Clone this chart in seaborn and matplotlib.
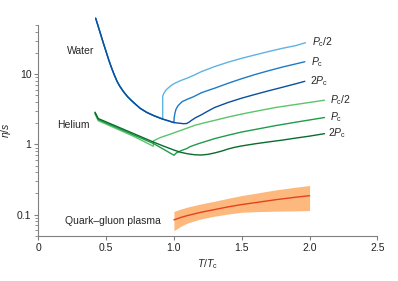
import numpy as np
import pandas as pd
import matplotlib
matplotlib.use("Agg")
import matplotlib.pyplot as plt
import matplotlib.ticker as mticker
import seaborn as sns

# Donnees (T/Tc, eta/s)

# Eau : branche liquide commune puis les trois pressions
water_liq_T = [0.423, 0.44, 0.46, 0.48, 0.50, 0.52, 0.54, 0.56, 0.58, 0.60, 0.63,
               0.66, 0.70, 0.75, 0.80, 0.85, 0.917]
water_liq_eta = [62.5, 49.0, 36.7, 27.5, 20.9, 15.8, 12.3, 9.77, 7.94, 6.76, 5.56,
                 4.73, 3.98, 3.27, 2.85, 2.57, 2.29]

water_half_T = [0.917, 0.917, 0.925, 0.94, 0.96, 0.98, 1.0, 1.05, 1.1, 1.15, 1.2,
                1.3, 1.4, 1.5, 1.6, 1.7, 1.8, 1.9, 1.97]
water_half_eta = [2.29, 4.85, 5.3, 5.9, 6.4, 6.9, 7.3, 8.1, 8.8, 9.7, 10.8,
                  12.8, 14.8, 16.8, 18.8, 21.0, 23.3, 25.5, 28.0]

water_pc_T = [0.917, 0.96, 1.0, 1.002, 1.007, 1.015, 1.03, 1.06, 1.1, 1.142, 1.2,
              1.25, 1.3, 1.4, 1.5, 1.6, 1.7, 1.8, 1.9, 1.965]
water_pc_eta = [2.29, 2.16, 2.04, 2.4, 2.75, 3.15, 3.55, 4.05, 4.4, 4.74, 5.4,
                5.85, 6.3, 7.41, 8.61, 9.89, 11.2, 12.6, 14.0, 15.0]

water_2pc_T = [0.917, 0.96, 1.0, 1.04, 1.07, 1.094, 1.11, 1.13, 1.16, 1.2, 1.24,
               1.3, 1.4, 1.5, 1.6, 1.7, 1.8, 1.9, 1.965]
water_2pc_eta = [2.29, 2.16, 2.04, 2.0, 1.97, 1.98, 2.06, 2.2, 2.4, 2.62, 2.9,
                 3.35, 3.95, 4.55, 5.15, 5.8, 6.5, 7.3, 7.9]

# Helium
he_half_T = [0.418, 0.442, 0.55, 0.70, 0.848, 0.848, 0.9, 0.983, 1.07, 1.155,
             1.23, 1.302, 1.4, 1.5, 1.6, 1.75, 1.9, 2.11]
he_half_eta = [2.72, 2.17, 1.76, 1.31, 0.94, 1.12, 1.25, 1.42, 1.63, 1.87,
               2.04, 2.2, 2.45, 2.7, 2.95, 3.35, 3.7, 4.25]

he_pc_T = [0.418, 0.442, 0.55, 0.70, 0.848, 0.92, 1.0, 1.02, 1.057, 1.094, 1.12,
           1.179, 1.24, 1.302, 1.4, 1.5, 1.6, 1.75, 1.9, 2.11]
he_pc_eta = [2.80, 2.25, 1.83, 1.37, 1.03, 0.86, 0.70, 0.76, 0.82, 0.87, 0.93,
             1.02, 1.11, 1.21, 1.35, 1.5, 1.63, 1.85, 2.07, 2.41]

he_2pc_T = [0.418, 0.442, 0.55, 0.70, 0.848, 0.92, 1.0, 1.05, 1.1, 1.15, 1.2,
            1.25, 1.3, 1.35, 1.4, 1.45, 1.5, 1.6, 1.7, 1.8, 1.9, 2.0, 2.11]
he_2pc_eta = [2.87, 2.33, 1.90, 1.43, 1.08, 0.95, 0.83, 0.77, 0.735, 0.712, 0.705,
              0.72, 0.755, 0.80, 0.86, 0.91, 0.95, 1.02, 1.085, 1.15, 1.23, 1.31, 1.42]

# Plasma quark-gluon (valeur centrale + bande)
qgp_T = [1.0, 1.05, 1.1, 1.2, 1.3, 1.4, 1.5, 1.6, 1.75, 1.9, 2.0]
qgp_eta = [0.084, 0.091, 0.097, 0.108, 0.118, 0.129, 0.139, 0.148, 0.163, 0.177, 0.186]
qgp_low = [0.059, 0.068, 0.076, 0.087, 0.095, 0.102, 0.108, 0.110, 0.112, 0.113, 0.114]
qgp_high = [0.111, 0.12, 0.128, 0.142, 0.155, 0.171, 0.187, 0.201, 0.225, 0.246, 0.26]

x_ticks = [0, 0.5, 1.0, 1.5, 2.0, 2.5]
x_ticklabels = ["0", "0.5", "1.0", "1.5", "2.0", "2.5"]
y_ticks = [0.1, 1, 10]
y_ticklabels = ["0.1", "1", "10"]

# Couleurs
blues = ["#5fb3e3", "#1f7ac5", "#0a4f9e"]
greens = ["#5cc46a", "#1e9c4a", "#0a6b2e"]

sns.set_style("ticks")
plt.rcParams["font.family"] = ["Liberation Sans", "DejaVu Sans"]
plt.rcParams["mathtext.fontset"] = "custom"
plt.rcParams["mathtext.rm"] = "Liberation Sans"
plt.rcParams["mathtext.it"] = "Liberation Sans:italic"

fig = plt.figure(figsize=(3.98, 2.81), dpi=100)
ax = fig.add_axes([0.0962, 0.161, 0.852, 0.750])

def courbe(T, eta, col, clip=True):
    df = pd.DataFrame({"T": T, "eta": eta})
    sns.lineplot(data=df, x="T", y="eta", ax=ax, color=col, lw=1.0,
                 sort=False, estimator=None, clip_on=clip)

# eau : on trace la plus claire d'abord
courbe(water_liq_T + water_half_T, water_liq_eta + water_half_eta, blues[0], clip=False)
courbe(water_liq_T + water_pc_T, water_liq_eta + water_pc_eta, blues[1], clip=False)
courbe(water_liq_T + water_2pc_T, water_liq_eta + water_2pc_eta, blues[2], clip=False)

courbe(he_half_T, he_half_eta, greens[0])
courbe(he_pc_T, he_pc_eta, greens[1])
courbe(he_2pc_T, he_2pc_eta, greens[2])

ax.fill_between(qgp_T, qgp_low, qgp_high, color="#fdb97d", lw=0)
courbe(qgp_T, qgp_eta, "#e8401c")

ax.set_yscale("log")
ax.set_xlim(0, 2.5)
ax.set_ylim(0.05, 50)
ax.set_xticks(x_ticks)
ax.set_xticklabels(x_ticklabels)
ax.set_yticks(y_ticks)
ax.set_yticklabels(y_ticklabels)
ax.yaxis.set_minor_locator(mticker.LogLocator(base=10, subs=np.arange(2, 10)))
ax.yaxis.set_minor_formatter(mticker.NullFormatter())

gris = "#808080"
for s in ["left", "bottom"]:
    ax.spines[s].set_color(gris)
    ax.spines[s].set_linewidth(0.8)
sns.despine(ax=ax)
ax.tick_params(which="major", length=3, width=0.8, color=gris, labelsize=7.5, pad=2, labelcolor="#222222")
ax.tick_params(which="minor", length=2, width=0.6, color=gris)

ax.set_xlabel(r"$T/T_{\rm c}$", fontsize=7.5, labelpad=3)
ax.set_ylabel(r"$\eta/s$", fontsize=7.5, labelpad=3)

fs = 7.5
ax.text(0.415, 21.5, "Water", ha="right", va="center", fontsize=fs)
ax.text(0.38, 1.87, "Helium", ha="right", va="center", fontsize=fs)
ax.text(0.90, 0.082, "Quark\u2013gluon plasma", ha="right", va="center", fontsize=fs)

ax.text(2.02, 28.6, r"$P_{\rm c}/2$", ha="left", va="center", fontsize=fs)
ax.text(2.01, 14.8, r"$P_{\rm c}$", ha="left", va="center", fontsize=fs)
ax.text(2.0, 7.94, r"$2P_{\rm c}$", ha="left", va="center", fontsize=fs)
ax.text(2.15, 4.25, r"$P_{\rm c}/2$", ha="left", va="center", fontsize=fs)
ax.text(2.15, 2.43, r"$P_{\rm c}$", ha="left", va="center", fontsize=fs)
ax.text(2.135, 1.44, r"$2P_{\rm c}$", ha="left", va="center", fontsize=fs)

fig.savefig("out.png", dpi=100)
